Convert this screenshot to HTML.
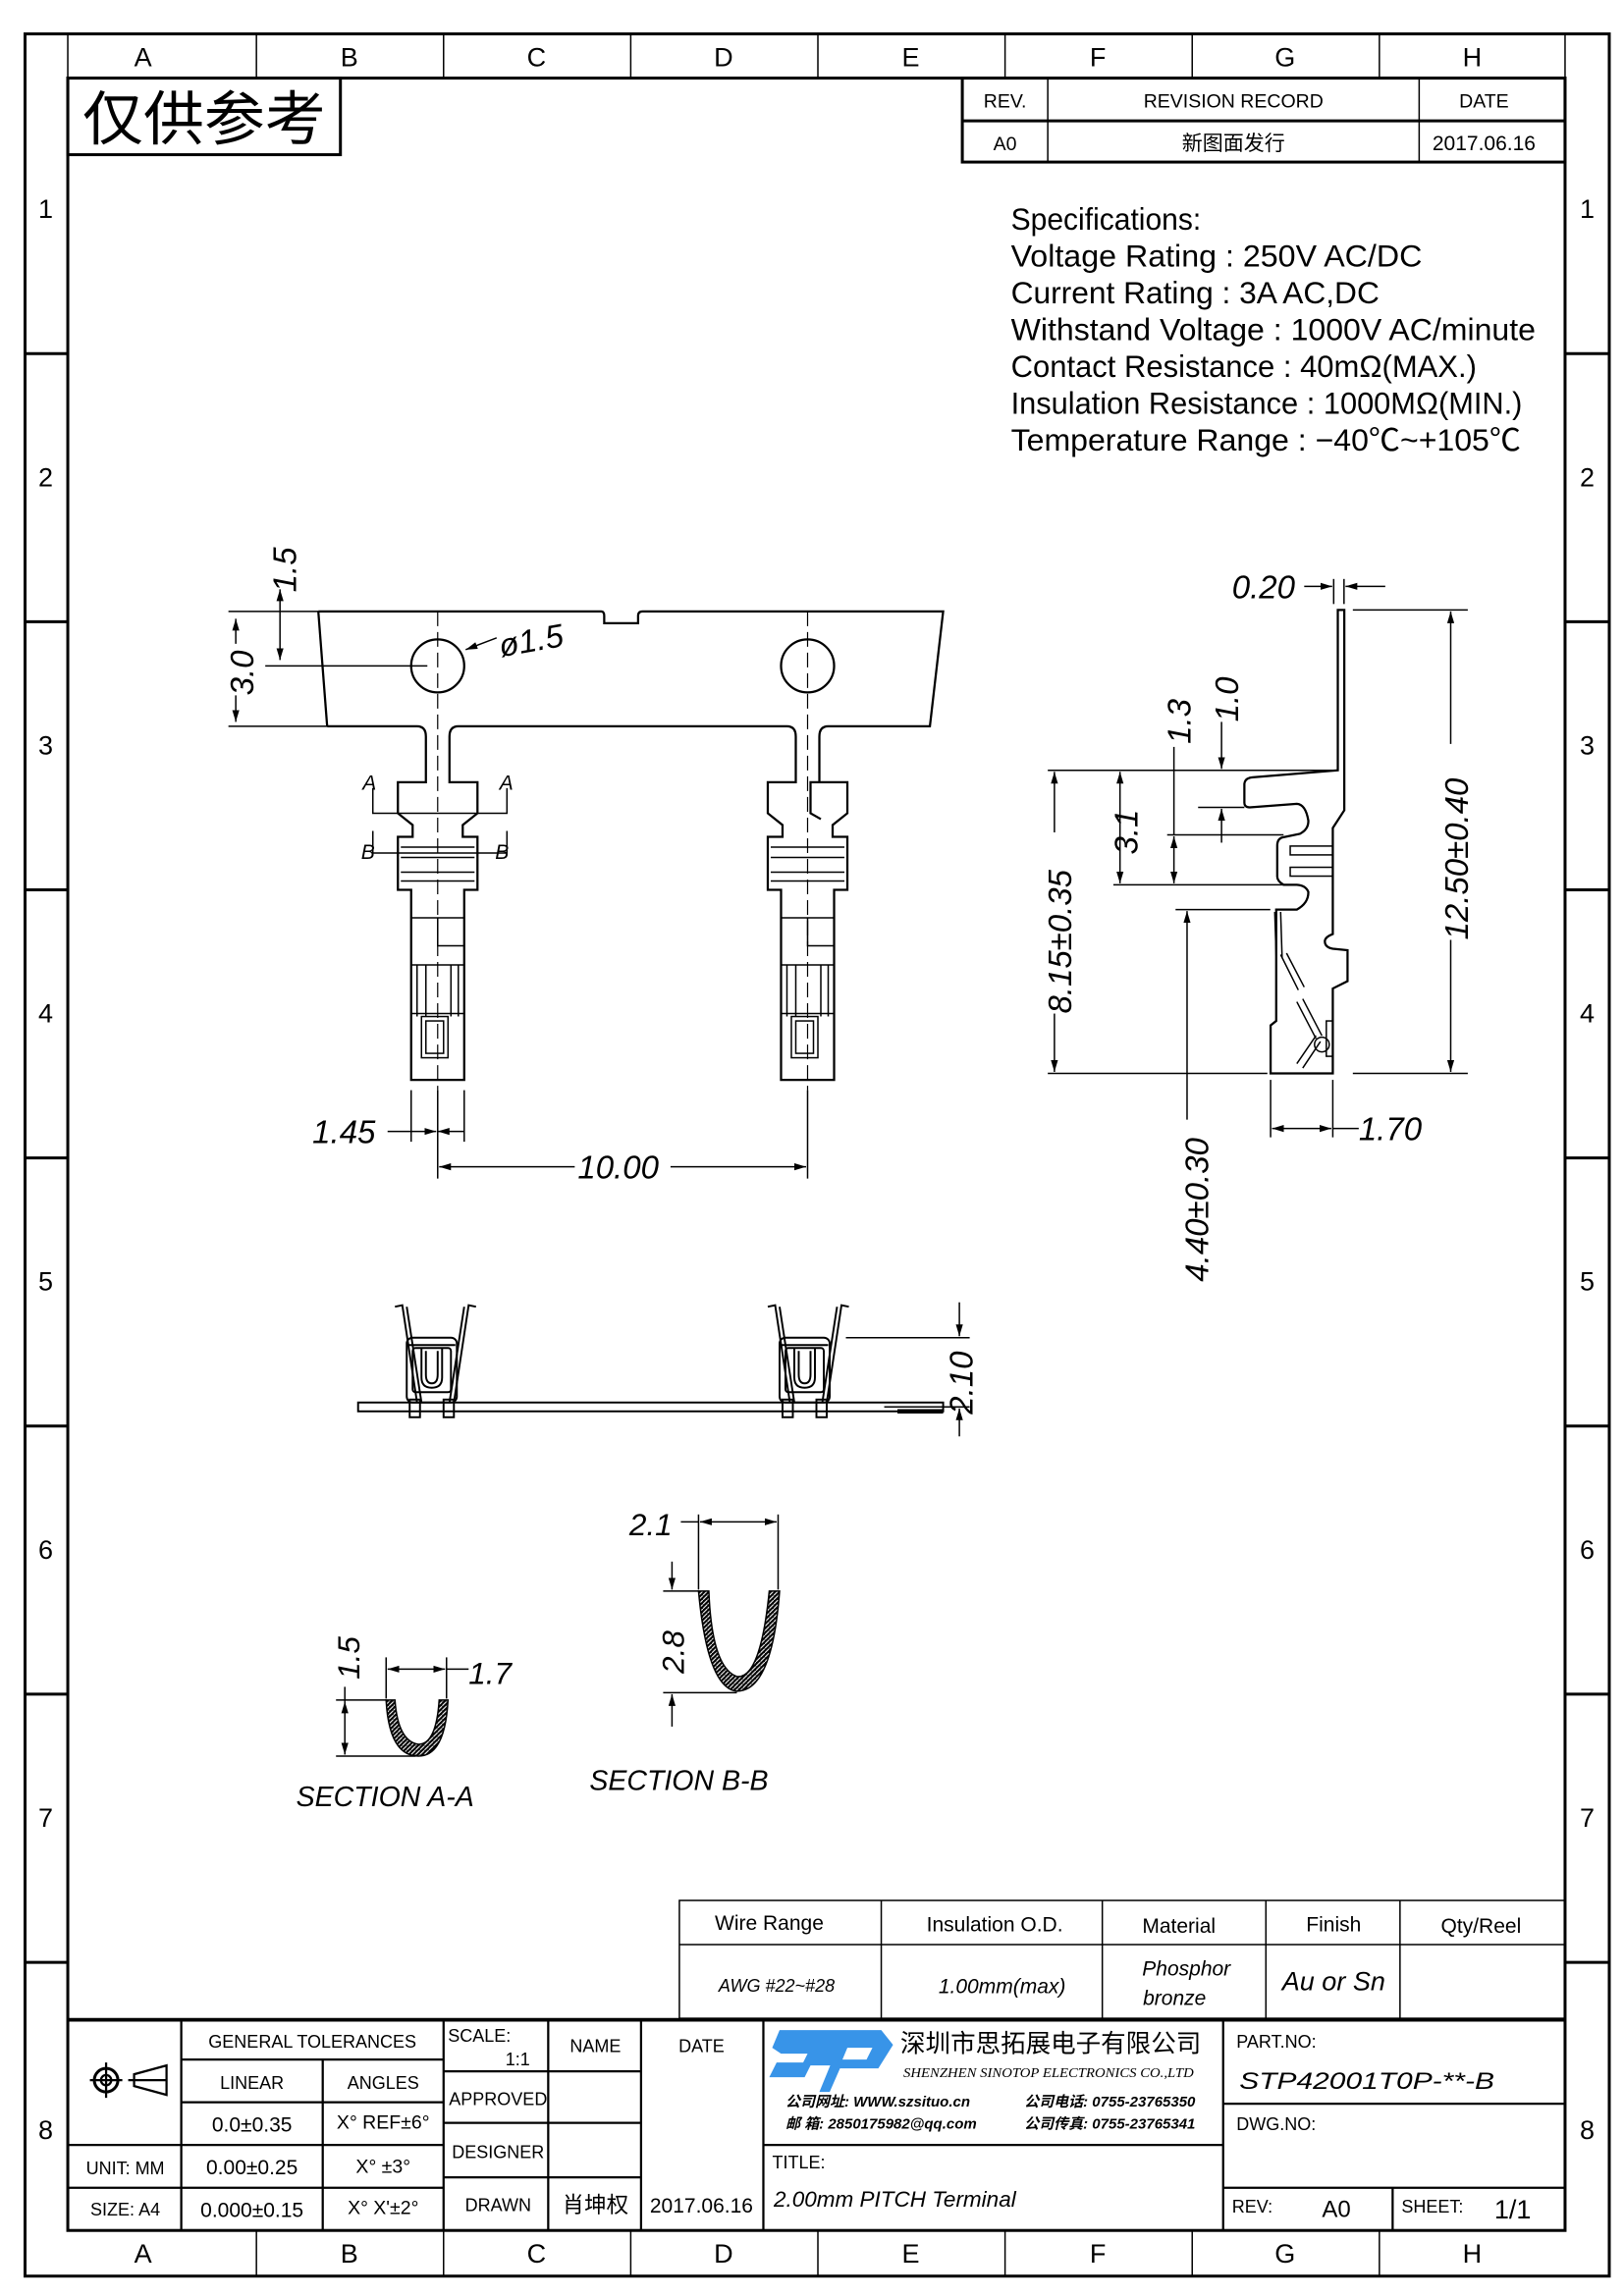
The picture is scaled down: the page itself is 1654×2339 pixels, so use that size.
<!DOCTYPE html>
<html><head><meta charset="utf-8"><style>
html,body{margin:0;padding:0;background:#fff;width:1654px;height:2339px;overflow:hidden}
svg{display:block}
text{font-family:"Liberation Sans","Noto Sans CJK SC",sans-serif;fill:#000}
.s{font-family:"Liberation Serif","Noto Serif CJK SC",serif}
.d{font-family:"Liberation Sans",sans-serif;font-style:italic}
</style></head><body>
<svg width="1654" height="2339" viewBox="0 0 1102 1558.5" preserveAspectRatio="none" xmlns="http://www.w3.org/2000/svg">
<defs>
<marker id="a" viewBox="0 0 10 6" refX="10" refY="3" markerWidth="8" markerHeight="5" orient="auto-start-reverse" markerUnits="userSpaceOnUse"><path d="M0,0 L10,3 L0,6z" fill="#000"/></marker>
<pattern id="h" width="3" height="3" patternUnits="userSpaceOnUse"><rect width="3" height="3" fill="#000"/><path d="M0,3 L3,0" stroke="#fff" stroke-width="0.7"/></pattern>
</defs>
<g fill="none" stroke="#000">
<rect x="17" y="23" width="1075" height="1522" stroke-width="2"/>
<rect x="46" y="53" width="1016" height="1461" stroke-width="2"/>
<line x1="46" y1="23" x2="46" y2="53" stroke-width="1"/>
<line x1="1062" y1="23" x2="1062" y2="53" stroke-width="1"/>
<g stroke-width="1">
<line x1="174" y1="23" x2="174" y2="53"/><line x1="301" y1="23" x2="301" y2="53"/><line x1="428" y1="23" x2="428" y2="53"/><line x1="555" y1="23" x2="555" y2="53"/><line x1="682" y1="23" x2="682" y2="53"/><line x1="809" y1="23" x2="809" y2="53"/><line x1="936" y1="23" x2="936" y2="53"/>
<line x1="174" y1="1514" x2="174" y2="1545"/><line x1="301" y1="1514" x2="301" y2="1545"/><line x1="428" y1="1514" x2="428" y2="1545"/><line x1="555" y1="1514" x2="555" y2="1545"/><line x1="682" y1="1514" x2="682" y2="1545"/><line x1="809" y1="1514" x2="809" y2="1545"/><line x1="936" y1="1514" x2="936" y2="1545"/>
</g>
<g stroke-width="2">
<line x1="17" y1="240" x2="46" y2="240"/><line x1="17" y1="422" x2="46" y2="422"/><line x1="17" y1="604" x2="46" y2="604"/><line x1="17" y1="786" x2="46" y2="786"/><line x1="17" y1="968" x2="46" y2="968"/><line x1="17" y1="1150" x2="46" y2="1150"/><line x1="17" y1="1332" x2="46" y2="1332"/>
<line x1="1062" y1="240" x2="1092" y2="240"/><line x1="1062" y1="422" x2="1092" y2="422"/><line x1="1062" y1="604" x2="1092" y2="604"/><line x1="1062" y1="786" x2="1092" y2="786"/><line x1="1062" y1="968" x2="1092" y2="968"/><line x1="1062" y1="1150" x2="1092" y2="1150"/><line x1="1062" y1="1332" x2="1092" y2="1332"/>
</g>
<rect x="46" y="53" width="185" height="52" stroke-width="2"/>
<rect x="653" y="53" width="409" height="57" stroke-width="2"/>
<line x1="653" y1="82" x2="1062" y2="82" stroke-width="2"/>
<line x1="711" y1="53" x2="711" y2="110"/><line x1="963" y1="53" x2="963" y2="110"/>
<rect x="461" y="1290" width="601" height="80"/>
<line x1="461" y1="1320" x2="1062" y2="1320"/>
<line x1="598" y1="1290" x2="598" y2="1370"/><line x1="748" y1="1290" x2="748" y2="1370"/><line x1="859" y1="1290" x2="859" y2="1370"/><line x1="950" y1="1290" x2="950" y2="1370"/>
<line x1="46" y1="1371" x2="1062" y2="1371" stroke-width="2.5"/>
<g stroke-width="1.5">
<line x1="123" y1="1371" x2="123" y2="1514"/>
<line x1="219" y1="1398" x2="219" y2="1514"/>
<line x1="301" y1="1371" x2="301" y2="1514"/>
<line x1="372" y1="1371" x2="372" y2="1514"/>
<line x1="435" y1="1371" x2="435" y2="1514"/>
<line x1="518" y1="1371" x2="518" y2="1514"/>
<line x1="830" y1="1371" x2="830" y2="1514"/>
<line x1="123" y1="1398" x2="301" y2="1398"/>
<line x1="123" y1="1427" x2="301" y2="1427"/>
<line x1="46" y1="1456" x2="301" y2="1456"/>
<line x1="46" y1="1485" x2="301" y2="1485"/>
<line x1="301" y1="1406" x2="435" y2="1406"/>
<line x1="301" y1="1441" x2="435" y2="1441"/>
<line x1="301" y1="1478" x2="435" y2="1478"/>
<line x1="518" y1="1456" x2="830" y2="1456"/>
<line x1="830" y1="1428" x2="1062" y2="1428"/>
<line x1="830" y1="1485" x2="1062" y2="1485"/>
<line x1="945" y1="1485" x2="945" y2="1514"/>
</g>
<circle cx="72" cy="1412" r="8" stroke-width="2"/><circle cx="72" cy="1412" r="3.5" stroke-width="1.5"/>
<line x1="61" y1="1412" x2="83" y2="1412" stroke-width="1.5"/><line x1="72" y1="1400" x2="72" y2="1424" stroke-width="1.5"/>
<path d="M91,1408 L113,1402 L113,1422 L91,1416 Z M87,1412 L113,1412" stroke-width="1.5"/>
</g>
<g font-size="18" text-anchor="middle">
<text x="97" y="45">A</text><text x="237" y="45">B</text><text x="364" y="45">C</text><text x="491" y="45">D</text><text x="618" y="45">E</text><text x="745" y="45">F</text><text x="872" y="45">G</text><text x="999" y="45">H</text>
<text x="97" y="1536">A</text><text x="237" y="1536">B</text><text x="364" y="1536">C</text><text x="491" y="1536">D</text><text x="618" y="1536">E</text><text x="745" y="1536">F</text><text x="872" y="1536">G</text><text x="999" y="1536">H</text>
<text x="31" y="148">1</text><text x="31" y="330">2</text><text x="31" y="512">3</text><text x="31" y="694">4</text><text x="31" y="876">5</text><text x="31" y="1058">6</text><text x="31" y="1240">7</text><text x="31" y="1452">8</text>
<text x="1077" y="148">1</text><text x="1077" y="330">2</text><text x="1077" y="512">3</text><text x="1077" y="694">4</text><text x="1077" y="876">5</text><text x="1077" y="1058">6</text><text x="1077" y="1240">7</text><text x="1077" y="1452">8</text>
</g>
<text x="56" y="95" font-size="40" textLength="165" lengthAdjust="spacingAndGlyphs">仅供参考</text>
<g class="s" font-size="13" text-anchor="middle">
<text x="682" y="73">REV.</text><text x="837" y="73">REVISION RECORD</text><text x="1007" y="73">DATE</text>
<text x="682" y="102">A0</text><text x="837" y="102" font-size="14">新图面发行</text><text x="1007" y="102" font-size="14">2017.06.16</text>
</g>
<g font-size="21">
<text x="686" y="156" textLength="129" lengthAdjust="spacingAndGlyphs">Specifications:</text>
<text x="686" y="181" textLength="279" lengthAdjust="spacingAndGlyphs">Voltage  Rating  :  250V  AC/DC</text>
<text x="686" y="206" textLength="250" lengthAdjust="spacingAndGlyphs">Current  Rating  :  3A  AC,DC</text>
<text x="686" y="231" textLength="356" lengthAdjust="spacingAndGlyphs">Withstand  Voltage  :  1000V  AC/minute</text>
<text x="686" y="256" textLength="316" lengthAdjust="spacingAndGlyphs">Contact  Resistance  :  40mΩ(MAX.)</text>
<text x="686" y="281" textLength="347" lengthAdjust="spacingAndGlyphs">Insulation  Resistance  :  1000MΩ(MIN.)</text>
<text x="686" y="306" textLength="346" lengthAdjust="spacingAndGlyphs">Temperature  Range  :  −40℃~+105℃</text>
</g>
<g class="s" font-size="14" text-anchor="middle">
<text x="522" y="1310">Wire Range</text><text x="675" y="1311">Insulation O.D.</text><text x="800" y="1312">Material</text><text x="905" y="1311">Finish</text><text x="1005" y="1312">Qty/Reel</text>
<g font-style="italic"><text x="527" y="1352" font-size="12">AWG #22~#28</text><text x="680" y="1353">1.00mm(max)</text><text x="805" y="1341">Phosphor</text><text x="797" y="1361">bronze</text><text x="905" y="1351" font-size="18">Au or Sn</text></g>
</g>
<g class="s" font-size="12" text-anchor="middle">
<text x="212" y="1390">GENERAL TOLERANCES</text>
<text x="171" y="1418">LINEAR</text><text x="260" y="1418">ANGLES</text>
<text x="171" y="1447" font-size="14">0.0±0.35</text><text x="260" y="1445" font-size="13">X° REF±6°</text>
<text x="85" y="1476">UNIT: MM</text><text x="171" y="1476" font-size="14">0.00±0.25</text><text x="260" y="1475" font-size="13">X°  ±3°</text>
<text x="85" y="1504">SIZE: A4</text><text x="171" y="1505" font-size="14">0.000±0.15</text><text x="260" y="1503" font-size="13">X° X'±2°</text>
<text x="404" y="1393">NAME</text><text x="476" y="1393">DATE</text>
<text x="338" y="1429">APPROVED</text><text x="338" y="1465">DESIGNER</text><text x="338" y="1501">DRAWN</text>
<text x="404" y="1502" font-size="15">肖坤权</text><text x="476" y="1502" font-size="14">2017.06.16</text>
</g>
<g class="s" font-size="12"><text x="304" y="1386">SCALE:</text><text x="343" y="1402">1:1</text>
<text x="524" y="1472">TITLE:</text>
<text x="525" y="1498" font-size="15" font-style="italic">2.00mm PITCH Terminal</text>
<text x="839" y="1390">PART.NO:</text><text x="839" y="1446">DWG.NO:</text>
<text x="836" y="1502">REV:</text><text x="897" y="1505" font-size="16">A0</text>
<text x="951" y="1502">SHEET:</text><text x="1014" y="1506" font-size="18">1/1</text></g>
<text x="841" y="1418" font-size="16" font-style="italic" textLength="173" lengthAdjust="spacingAndGlyphs">STP42001T0P-**-B</text>
<path d="M529,1378 L598,1378 L606,1388 L596,1404 L570,1404 L563,1420 L556,1420 L565,1398 L588,1398 L592,1390 L575,1390 L570,1402 L550,1402 L546,1410 L522,1410 L527,1400 L545,1400 L548,1394 L530,1394 L524,1390 Z" fill="#3894e8"/>
<text x="611" y="1393" font-size="17" textLength="204" lengthAdjust="spacingAndGlyphs">深圳市思拓展电子有限公司</text>
<text x="613" y="1410" font-size="9" font-style="italic" class="s" textLength="197" lengthAdjust="spacingAndGlyphs">SHENZHEN SINOTOP ELECTRONICS CO.,LTD</text>
<g font-size="10" font-weight="bold" font-style="italic">
<text x="533" y="1430">公司网址: WWW.szsituo.cn</text><text x="695" y="1430">公司电话: 0755-23765350</text>
<text x="533" y="1445">邮    箱: 2850175982@qq.com</text><text x="695" y="1445">公司传真: 0755-23765341</text>
</g>

<!-- top view -->
<g fill="none" stroke="#000" stroke-width="1.5">
<path d="M216,415 L408,415 Q410,415 410,418 L410,423 L433,423 L433,418 Q433,415 436,415 L640,415 L631,493 L562,493 Q556,493 556,500 L556,531 L550,531 L550,552 L557,556"/>
<path d="M222,493 L216,415"/>
<path d="M222,493 L283,493 Q289,493 289,500 L289,531 L270,531 L270,552 L280,560 L280,568 L270,568 L270,604 L279,604 L279,733 L315,733 L315,604 L324,604 L324,568 L314,568 L314,560 L324,552 L324,531 L305,531 L305,500 Q305,493 311,493 L534,493 Q540,493 540,500 L540,531 L521,531 L521,552 L531,560 L531,568 L521,568 L521,604 L530,604 L530,733 L566,733 L566,604 L575,604 L575,568 L565,568 L565,560 L575,552 L575,531 L556,531"/>
<circle cx="297" cy="452" r="18"/><circle cx="548" cy="452" r="18"/>
<g stroke-width="1">
<path d="M272,575 L322,575 M272,582 L322,582 M272,592 L322,592 M272,598 L322,598"/>
<path d="M523,575 L573,575 M523,582 L573,582 M523,592 L573,592 M523,598 L573,598"/>
<path d="M279,623 L315,623 M297,623 L297,642 L315,642 M279,655 L315,655 M279,688 L315,688"/>
<path d="M530,623 L566,623 M548,623 L548,642 L566,642 M530,655 L566,655 M530,688 L566,688"/>
<rect x="286" y="690" width="18" height="28"/><rect x="289" y="693" width="12" height="22"/>
<rect x="537" y="690" width="18" height="28"/><rect x="540" y="693" width="12" height="22"/>
<path d="M283,655 L283,690 M289,655 L289,690 M306,655 L306,690 M311,655 L311,690"/>
<path d="M534,655 L534,690 M540,655 L540,690 M557,655 L557,690 M562,655 L562,690"/>
<g stroke-dasharray="10,4" stroke-width="0.8"><line x1="297" y1="415" x2="297" y2="740"/><line x1="548" y1="415" x2="548" y2="740"/></g>
<path d="M253,535 L253,552 L344,552 L344,535"/><path d="M253,564 L253,579 L344,579 L344,564"/>
<line x1="155" y1="415" x2="216" y2="415"/><line x1="155" y1="493" x2="222" y2="493"/>
<line x1="160" y1="420" x2="160" y2="437" marker-start="url(#a)"/><line x1="160" y1="472" x2="160" y2="490" marker-end="url(#a)"/>
<line x1="180" y1="452" x2="290" y2="452"/>
<line x1="190" y1="400" x2="190" y2="448" marker-start="url(#a)" marker-end="url(#a)"/>
<line x1="337" y1="433" x2="316" y2="441" marker-end="url(#a)"/>
<line x1="279" y1="740" x2="279" y2="775"/><line x1="315" y1="740" x2="315" y2="775"/><line x1="297" y1="740" x2="297" y2="800"/><line x1="548" y1="740" x2="548" y2="800"/>
<line x1="263" y1="768" x2="296" y2="768" marker-end="url(#a)"/><line x1="315" y1="768" x2="297" y2="768" marker-end="url(#a)"/>
<line x1="390" y1="792" x2="298" y2="792" marker-end="url(#a)"/><line x1="455" y1="792" x2="547" y2="792" marker-end="url(#a)"/>
</g>
</g>
<g class="d" font-size="22">
<text x="340" y="446" transform="rotate(-10 340 446)">ø1.5</text>
<text x="212" y="776">1.45</text>
<text x="392" y="800">10.00</text>
<text transform="translate(172,472) rotate(-90)">3.0</text>
<text transform="translate(201,402) rotate(-90)">1.5</text>
<g font-size="14"><text x="246" y="536">A</text><text x="339" y="536">A</text><text x="245" y="583">B</text><text x="336" y="583">B</text></g>
</g>

<!-- side view -->
<g fill="none" stroke="#000" stroke-width="1.5">
<path d="M907.8,414 L912.2,414 L912.2,550 L904.4,562 L904.4,634 Q899,636 899,639 Q899,643 904.4,644 L914.4,645 L914.4,666 L904.4,671 L904.4,728.6 L862.2,728.6 L862.2,696 L866,693 L866,617.4 L880,617.4 Q888,613 887.8,605.4 Q886,601 880,600.6 L871,600.6 Q866.7,598 866.7,595 L866.7,574 Q866.7,569 871,568.3 L882,566 Q888,563 887.8,557 Q886,546 880,545.6 L848,548 Q844.4,548 844.4,545 L844.4,532 Q845,528 850,527.6 L907.8,522.9 Z"/>
<g stroke-width="1">
<rect x="875.5" y="574.3" width="29" height="6"/><rect x="875.5" y="588.7" width="29" height="6"/>
<path d="M865,619 L866,650 M869,619 L870,650 M869,648 L881,672 M873,647 L885,670 M880,680 L893,705 M884,678 L897,703 M880,722 L893,703 M884,725 L896,707"/>
<circle cx="897" cy="709" r="5"/>
<rect x="900" y="693" width="4.4" height="24"/>
<line x1="905" y1="393" x2="905" y2="410"/><line x1="912" y1="393" x2="912" y2="410"/>
<line x1="885" y1="398" x2="904" y2="398" marker-end="url(#a)"/><line x1="940" y1="398" x2="913" y2="398" marker-end="url(#a)"/>
<line x1="918" y1="414" x2="996" y2="414"/><line x1="918" y1="728.6" x2="996" y2="728.6"/>
<line x1="984.4" y1="505" x2="984.4" y2="415" marker-end="url(#a)"/><line x1="984.4" y1="638" x2="984.4" y2="727.6" marker-end="url(#a)"/>
<line x1="711" y1="522.9" x2="907.8" y2="522.9"/><line x1="711" y1="728.6" x2="860" y2="728.6"/>
<line x1="715.5" y1="565" x2="715.5" y2="523.9" marker-end="url(#a)"/><line x1="715.5" y1="688" x2="715.5" y2="727.6" marker-end="url(#a)"/>
<line x1="760" y1="523.9" x2="760" y2="599.6" marker-start="url(#a)" marker-end="url(#a)"/>
<line x1="755.5" y1="600.6" x2="871" y2="600.6"/>
<line x1="792" y1="566.7" x2="871" y2="566.7"/>
<line x1="796.6" y1="507" x2="796.6" y2="566.7"/>
<line x1="796.6" y1="567.7" x2="796.6" y2="599.6" marker-start="url(#a)" marker-end="url(#a)"/>
<line x1="828.9" y1="490" x2="828.9" y2="521.9" marker-end="url(#a)"/><line x1="828.9" y1="572" x2="828.9" y2="549" marker-end="url(#a)"/>
<line x1="813" y1="548" x2="844.4" y2="548"/>
<line x1="797.7" y1="617.4" x2="862" y2="617.4"/>
<line x1="805.5" y1="760" x2="805.5" y2="618.4" marker-end="url(#a)"/>
<line x1="862.2" y1="733" x2="862.2" y2="772"/><line x1="904.4" y1="733" x2="904.4" y2="772"/>
<line x1="863.2" y1="766" x2="903.4" y2="766" marker-start="url(#a)" marker-end="url(#a)"/>
<line x1="904.4" y1="766" x2="922" y2="766"/>
</g>
</g>
<g class="d" font-size="22">
<text x="836" y="406">0.20</text>
<text x="922" y="774">1.70</text>
<text transform="translate(996,638) rotate(-90)">12.50±0.40</text>
<text transform="translate(727,688) rotate(-90)">8.15±0.35</text>
<text transform="translate(772,580) rotate(-90)">3.1</text>
<text transform="translate(808,505) rotate(-90)">1.3</text>
<text transform="translate(840,490) rotate(-90)">1.0</text>
<text transform="translate(820,870) rotate(-90)">4.40±0.30</text>
</g>

<!-- front view -->
<g fill="none" stroke="#000" stroke-width="1.3">
<rect x="243" y="952" width="397" height="6"/>
<path d="M609,958 L640,958" stroke-width="3"/>
<g id="fv">
<path d="M268,887 L273,886 L283,952 M276,887 L286,952"/>
<path d="M323,887 L318,886 L308,952 M315,887 L305,952"/>
<rect x="276" y="908" width="34" height="44" rx="4"/>
<rect x="280" y="915" width="26" height="30" rx="2"/>
<path d="M286,915 L286,935 Q286,942 293,942 Q300,942 300,935 L300,915 M289,917 L289,933 Q289,939 293,939 Q297,939 297,933 L297,917"/>
<line x1="277" y1="913" x2="309" y2="913"/>
<rect x="278" y="950" width="7" height="12"/><rect x="301" y="950" width="7" height="12"/>
</g>
<use href="#fv" x="253"/>
<g stroke-width="1">
<line x1="574" y1="908" x2="658" y2="908"/><line x1="600" y1="955" x2="658" y2="955"/>
<line x1="651" y1="884" x2="651" y2="907" marker-end="url(#a)"/><line x1="651" y1="975" x2="651" y2="956" marker-end="url(#a)"/>
</g>
</g>
<text class="d" font-size="22" transform="translate(660,960) rotate(-90)">2.10</text>

<!-- sections -->
<path d="M262,1154 L268,1154 Q270,1182 284,1184 Q296,1184 298,1154 L304,1154 Q302,1192 284,1192 Q264,1192 262,1154 Z" fill="url(#h)" stroke="#000" stroke-width="1"/>
<path d="M474,1080 L481,1080 Q483,1132 500,1138 Q516,1140 522,1080 L529,1080 Q524,1148 500,1148 Q480,1146 474,1080 Z" fill="url(#h)" stroke="#000" stroke-width="1"/>
<g fill="none" stroke="#000" stroke-width="1">
<line x1="262" y1="1125" x2="262" y2="1153"/><line x1="303" y1="1125" x2="303" y2="1153"/>
<line x1="263" y1="1133" x2="302" y2="1133" marker-start="url(#a)" marker-end="url(#a)"/><line x1="303" y1="1133" x2="318" y2="1133"/>
<line x1="228" y1="1154" x2="262" y2="1154"/><line x1="228" y1="1192" x2="282" y2="1192"/>
<line x1="234" y1="1155" x2="234" y2="1191" marker-start="url(#a)" marker-end="url(#a)"/><line x1="234" y1="1145" x2="234" y2="1155"/>
<line x1="474" y1="1028" x2="474" y2="1079"/><line x1="528" y1="1028" x2="528" y2="1079"/>
<line x1="475" y1="1033" x2="527" y2="1033" marker-start="url(#a)" marker-end="url(#a)"/><line x1="462" y1="1033" x2="474" y2="1033"/>
<line x1="450" y1="1080" x2="474" y2="1080"/><line x1="450" y1="1149" x2="500" y2="1149"/>
<line x1="456" y1="1060" x2="456" y2="1079" marker-end="url(#a)"/><line x1="456" y1="1172" x2="456" y2="1150" marker-end="url(#a)"/>
</g>
<g class="d" font-size="21">
<text x="318" y="1143">1.7</text>
<text x="427" y="1042">2.1</text>
<text transform="translate(244,1140) rotate(-90)">1.5</text>
<text transform="translate(464,1136) rotate(-90)">2.8</text>
<text x="201" y="1226" font-size="19">SECTION  A-A</text>
<text x="400" y="1215" font-size="19">SECTION  B-B</text>
</g>
</svg>
</body></html>
